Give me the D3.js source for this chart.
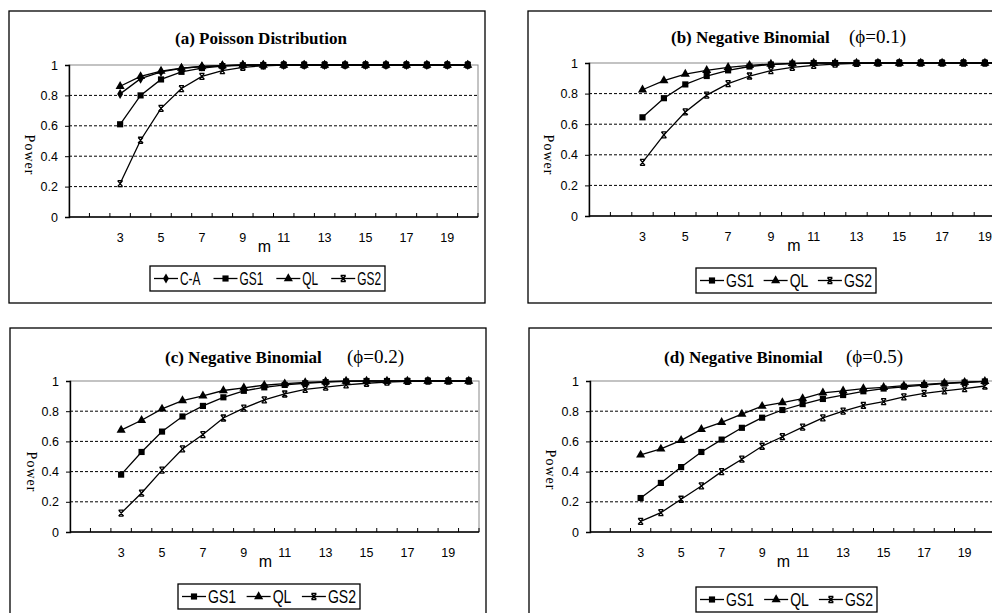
<!DOCTYPE html>
<html>
<head>
<meta charset="utf-8">
<script src="https://cdn.jsdelivr.net/npm/d3@7"></script>
<style>
  body { margin: 0; background: #fff; }
  svg { display: block; }
</style>
</head>
<body>
<div id="graph"></div>
<script>
const width = 992;
const height = 613;

// x categories (m) and the labels excel shows on every 2nd category
const categories = [1, 2, 3, 4, 5, 6, 7, 8, 9, 10, 11, 12, 13, 14, 15, 16, 17, 18, 19, 20];
const xTickLabels = [3, 5, 7, 9, 11, 13, 15, 17, 19];
const yTicks = [0, 0.2, 0.4, 0.6, 0.8, 1];
const mValues = [3, 4, 5, 6, 7, 8, 9, 10, 11, 12, 13, 14, 15, 16, 17, 18, 19, 20];

// (a) Poisson
const poissonCA  = [0.81, 0.91, 0.955, 0.978, 0.99, 0.996, 1, 1, 1, 1, 1, 1, 1, 1, 1, 1, 1, 1];
const poissonGS1 = [0.61, 0.80, 0.905, 0.955, 0.98, 0.993, 0.998, 1, 1, 1, 1, 1, 1, 1, 1, 1, 1, 1];
const poissonQL  = [0.86, 0.925, 0.96, 0.98, 0.99, 0.996, 1, 1, 1, 1, 1, 1, 1, 1, 1, 1, 1, 1];
const poissonGS2 = [0.22, 0.505, 0.715, 0.845, 0.925, 0.963, 0.985, 0.995, 1, 1, 1, 1, 1, 1, 1, 1, 1, 1];

// (b) negative binomial phi = 0.1
const nb01GS1 = [0.645, 0.77, 0.86, 0.915, 0.952, 0.977, 0.99, 0.996, 1, 1, 1, 1, 1, 1, 1, 1, 1, 1];
const nb01QL  = [0.825, 0.885, 0.928, 0.952, 0.972, 0.985, 0.993, 0.997, 1, 1, 1, 1, 1, 1, 1, 1, 1, 1];
const nb01GS2 = [0.35, 0.53, 0.68, 0.79, 0.865, 0.915, 0.95, 0.972, 0.985, 0.993, 0.997, 1, 1, 1, 1, 1, 1, 1];

// (c) phi = 0.2
const nb02GS1 = [0.38, 0.53, 0.665, 0.765, 0.835, 0.892, 0.935, 0.958, 0.974, 0.985, 0.993, 0.997, 1, 1, 1, 1, 1, 1];
const nb02QL  = [0.675, 0.74, 0.815, 0.87, 0.902, 0.937, 0.955, 0.972, 0.982, 0.99, 0.996, 1, 1, 1, 1, 1, 1, 1];
const nb02GS2 = [0.125, 0.258, 0.41, 0.55, 0.645, 0.755, 0.82, 0.875, 0.914, 0.945, 0.96, 0.974, 0.985, 0.992, 0.997, 1, 1, 1];

// (d) phi = 0.5
const nb05GS1 = [0.225, 0.325, 0.43, 0.53, 0.612, 0.69, 0.757, 0.808, 0.847, 0.881, 0.907, 0.932, 0.95, 0.962, 0.973, 0.983, 0.99, 0.997];
const nb05QL  = [0.51, 0.55, 0.607, 0.68, 0.726, 0.781, 0.833, 0.857, 0.884, 0.922, 0.935, 0.95, 0.958, 0.969, 0.978, 0.986, 0.992, 0.998];
const nb05GS2 = [0.07, 0.128, 0.217, 0.305, 0.4, 0.482, 0.568, 0.631, 0.695, 0.756, 0.8, 0.838, 0.863, 0.895, 0.918, 0.935, 0.95, 0.967];

const panels = [
  { box: [9, 11, 476, 292], plot: [69, 65, 478, 217],
    title: "(a) Poisson Distribution", titleX: 175, titleY: 44, phi: null,
    yLab: [25, 155], legend: [150, 266, 235, 25],
    series: [["C-A", poissonCA, "diamond"], ["GS1", poissonGS1, "square"], ["QL", poissonQL, "triangle"], ["GS2", poissonGS2, "x"]] },
  { box: [528, 11, 497, 292], plot: [589, 63, 1017, 216],
    title: "(b) Negative Binomial", titleX: 671, titleY: 43, phi: "(\u03D5=0.1)", phiX: 849,
    yLab: [544, 155], legend: [696, 268, 180, 25],
    series: [["GS1", nb01GS1, "square"], ["QL", nb01QL, "triangle"], ["GS2", nb01GS2, "x"]] },
  { box: [10, 328, 476, 300], plot: [70, 381, 479, 532],
    title: "(c) Negative Binomial", titleX: 165, titleY: 363, phi: "(\u03D5=0.2)", phiX: 347,
    yLab: [27, 472], legend: [178, 584, 182, 25],
    series: [["GS1", nb02GS1, "square"], ["QL", nb02QL, "triangle"], ["GS2", nb02GS2, "x"]] },
  { box: [529, 328, 476, 300], plot: [590, 381, 995, 532],
    title: "(d) Negative Binomial", titleX: 664, titleY: 363, phi: "(\u03D5=0.5)", phiX: 846,
    yLab: [546, 470], legend: [696, 587, 181, 25],
    series: [["GS1", nb05GS1, "square"], ["QL", nb05QL, "triangle"], ["GS2", nb05GS2, "x"]] }
];

const svg = d3.select("#graph")
  .append("svg")
  .attr("width", width)
  .attr("height", height)
  .style("background", "#fff");

const tickFont = "'Liberation Sans', Arial, sans-serif";
const serifFont = "'Liberation Serif', 'Times New Roman', serif";
const narrowFont = "'Liberation Sans Narrow', 'Liberation Sans', sans-serif";

function drawMarker(g, type, x, y) {
  if (type == "x") {
    g.append("path")
      .attr("d", `M${x-2.5},${y-3}H${x+2.5}M${x-2.5},${y+3}H${x+2.5}M${x-2.5},${y-3}L${x+2.5},${y+3}M${x+2.5},${y-3}L${x-2.5},${y+3}`)
      .attr("stroke", "#000").attr("stroke-width", 1.3).attr("fill", "none");
    return;
  }
  const sym = type == "square" ? d3.symbolSquare : type == "triangle" ? d3.symbolTriangle : d3.symbolDiamond;
  const size = type == "square" ? 38 : type == "triangle" ? 36 : 30;
  g.append("path")
    .attr("d", d3.symbol(sym, size)())
    .attr("transform", `translate(${x},${y})`)
    .attr("fill", "#000");
}

panels.forEach(p => {
  const g = svg.append("g");
  const [bx, by, bw, bh] = p.box;
  g.append("rect")
    .attr("x", bx).attr("y", by).attr("width", bw).attr("height", bh)
    .attr("fill", "#fff").attr("stroke", "#000").attr("stroke-width", 1.3);

  const [pl, pt, pr, pb] = p.plot;
  const x = d3.scaleBand().domain(categories).range([pl, pr]).padding(0);
  const y = d3.scaleLinear().domain([0, 1]).range([pb, pt]);
  const cx = m => x(m) + x.bandwidth() / 2;

  // plot area frame (light) then dashed gridlines
  g.append("rect")
    .attr("x", pl).attr("y", pt).attr("width", pr - pl).attr("height", pb - pt)
    .attr("fill", "none").attr("stroke", "#888").attr("stroke-width", 1);
  g.selectAll(".grid")
    .data(yTicks.filter(t => t > 0 && t < 1))
    .enter().append("line")
    .attr("x1", pl).attr("x2", pr)
    .attr("y1", d => y(d)).attr("y2", d => y(d))
    .attr("stroke", "#000").attr("stroke-width", 1)
    .attr("stroke-dasharray", "3,2");

  // y axis
  const yAxis = g.append("g")
    .attr("transform", `translate(${pl},0)`)
    .call(d3.axisLeft(y).tickValues(yTicks).tickSize(4).tickPadding(7).tickFormat(d3.format("")));
  yAxis.select(".domain").attr("stroke", "#000").attr("stroke-width", 1.4);
  yAxis.selectAll("text").attr("font-family", tickFont).attr("font-size", 12.5).attr("fill", "#000");

  // x axis: category ticks at band edges pointing up, labels on odd m
  const xAxis = g.append("g").attr("transform", `translate(0,${pb})`);
  xAxis.append("line").attr("x1", pl).attr("x2", pr).attr("stroke", "#000").attr("stroke-width", 1.4);
  xAxis.selectAll(".tk")
    .data(categories)
    .enter().append("line")
    .attr("x1", d => x(d) + x.bandwidth()).attr("x2", d => x(d) + x.bandwidth())
    .attr("y1", 0).attr("y2", -4)
    .attr("stroke", "#000").attr("stroke-width", 1);
  xAxis.selectAll(".lb")
    .data(xTickLabels)
    .enter().append("text")
    .attr("x", d => cx(d)).attr("y", 25)
    .attr("text-anchor", "middle")
    .attr("font-family", tickFont).attr("font-size", 12.5)
    .text(d => d);
  xAxis.append("text")
    .attr("x", (pl + pr) / 2 - 9).attr("y", 35)
    .attr("text-anchor", "middle")
    .attr("font-family", tickFont).attr("font-size", 16)
    .text("m");

  // y label
  g.append("text")
    .attr("transform", `translate(${p.yLab[0]},${p.yLab[1]}) rotate(90)`)
    .attr("text-anchor", "middle")
    .attr("font-family", serifFont).attr("font-size", 14)
    .attr("letter-spacing", 1)
    .text("Power");

  // title
  g.append("text")
    .attr("x", p.titleX).attr("y", p.titleY)
    .attr("font-family", serifFont).attr("font-size", 17).attr("font-weight", "bold")
    .text(p.title);
  if (p.phi) {
    g.append("text")
      .attr("x", p.phiX).attr("y", p.titleY)
      .attr("font-family", serifFont).attr("font-size", 19)
      .text(p.phi);
  }

  // series
  const line = d3.line().x(d => cx(d[0])).y(d => y(d[1]));
  p.series.forEach(s => {
    const pts = mValues.map((m, i) => [m, s[1][i]]);
    g.append("path")
      .attr("d", line(pts))
      .attr("fill", "none").attr("stroke", "#000").attr("stroke-width", 1.3);
    pts.forEach(d => drawMarker(g, s[2], cx(d[0]), y(d[1])));
  });

  // legend, text squeezed like the condensed face in the original
  const [lx, ly, lw, lh] = p.legend;
  const lg = g.append("g");
  lg.append("rect")
    .attr("x", lx).attr("y", ly).attr("width", lw).attr("height", lh)
    .attr("fill", "#fff").attr("stroke", "#000").attr("stroke-width", 1.3);
  const texts = p.series.map(s => lg.append("text")
    .attr("y", ly + lh / 2 + 6.5)
    .attr("font-family", narrowFont).attr("font-size", 18)
    .text(s[0]));
  const squeeze = p.series.length == 4 ? 0.66 : 0.78;
  const widths = texts.map(t => t.node().getComputedTextLength() * squeeze);
  texts.forEach((t, i) => t.attr("textLength", widths[i]).attr("lengthAdjust", "spacingAndGlyphs"));
  const lineW = 24, gapT = 2;
  const used = d3.sum(widths) + p.series.length * (lineW + gapT);
  const gap = (lw - 8 - used) / (p.series.length - 1);
  let cur = lx + 4;
  p.series.forEach((s, i) => {
    const my = ly + lh / 2;
    lg.append("line")
      .attr("x1", cur).attr("x2", cur + lineW)
      .attr("y1", my).attr("y2", my)
      .attr("stroke", "#000").attr("stroke-width", 1.3);
    drawMarker(lg, s[2], cur + lineW / 2, my);
    texts[i].attr("x", cur + lineW + gapT);
    cur += lineW + gapT + widths[i] + gap;
  });
});
</script>
</body>
</html>
